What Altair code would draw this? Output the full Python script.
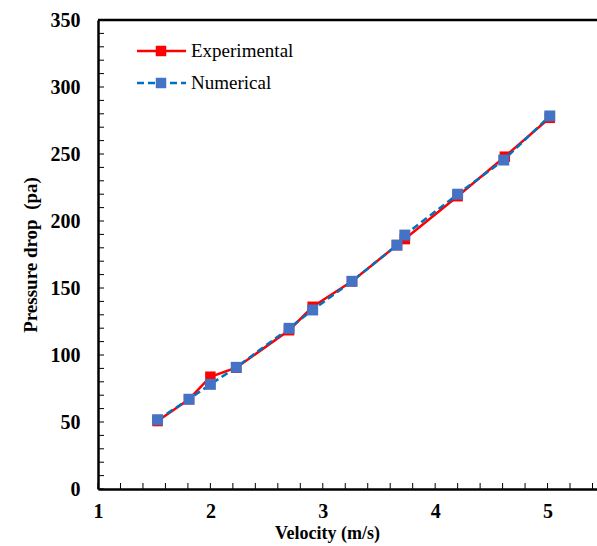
import altair as alt
import pandas as pd

# Data
exp_velocity = [1.53, 1.81, 2.00, 2.23, 2.70, 2.91, 3.26, 3.66, 3.73, 4.20, 4.62, 5.02]
exp_pressure = [50.7, 67.0, 83.8, 90.5, 118.5, 136.0, 155.0, 182.0, 186.5, 218.5, 248.0, 277.0]
num_velocity = [1.53, 1.81, 2.00, 2.23, 2.70, 2.91, 3.26, 3.66, 3.73, 4.20, 4.61, 5.02]
num_pressure = [51.7, 67.0, 78.1, 90.8, 119.9, 133.6, 155.0, 182.0, 189.5, 220.0, 245.5, 278.4]

x_labels = [1, 2, 3, 4, 5]
y_labels = [0, 50, 100, 150, 200, 250, 300, 350]
x_minor = [round(1 + 0.2 * i, 2) for i in range(23)]
y_minor = [10 * i for i in range(36)]

legend_names = ["Experimental", "Numerical"]

W, H = 499, 469
FONT = "Liberation Serif"
RED = "#FF0000"
BLUE_LINE = "#0070C0"
BLUE_MARK = "#4472C4"

exp_df = pd.DataFrame({"v": exp_velocity, "p": exp_pressure})
num_df = pd.DataFrame({"v": num_velocity, "p": num_pressure})

xscale = alt.Scale(domain=[1, 5.44], nice=False, zero=False)
yscale = alt.Scale(domain=[0, 350], nice=False)

xaxis = alt.Axis(
    values=x_labels, format="d", title="Velocity (m/s)", ticks=False, grid=False,
    labelFont=FONT, labelFontSize=20, labelFontWeight="bold", labelColor="black",
    labelPadding=12, domainColor="black", domainWidth=2.5,
    titleFont=FONT, titleFontSize=18, titleFontWeight="bold", titleColor="black",
    titleX=229, titlePadding=3, labelFlush=False,
)
yaxis = alt.Axis(
    values=y_labels, format="d", title="Pressure drop\u00a0\u00a0(pa)", ticks=False, grid=False,
    labelFont=FONT, labelFontSize=20, labelFontWeight="bold", labelColor="black",
    labelPadding=18, domainColor="black", domainWidth=2.5,
    titleFont=FONT, titleFontSize=19, titleFontWeight="bold", titleColor="black",
    titlePadding=10,
)

exp_line = alt.Chart(exp_df).mark_line(color=RED, strokeWidth=2.5).encode(
    x=alt.X("v:Q", scale=xscale, axis=xaxis),
    y=alt.Y("p:Q", scale=yscale, axis=yaxis),
)
exp_pts = alt.Chart(exp_df).mark_point(
    shape="square", filled=True, color=RED, size=110, opacity=1
).encode(x=alt.X("v:Q", scale=xscale), y=alt.Y("p:Q", scale=yscale))

num_line = alt.Chart(num_df).mark_line(
    color=BLUE_LINE, strokeWidth=2.5, strokeDash=[7, 4]
).encode(x=alt.X("v:Q", scale=xscale), y=alt.Y("p:Q", scale=yscale))
num_pts = alt.Chart(num_df).mark_point(
    shape="square", filled=True, color=BLUE_MARK, size=120, opacity=1
).encode(x=alt.X("v:Q", scale=xscale), y=alt.Y("p:Q", scale=yscale))

# Inward minor/major ticks
ytick_df = pd.DataFrame({"p": y_minor})
xtick_df = pd.DataFrame({"v": x_minor})
yticks = alt.Chart(ytick_df).mark_rule(color="black", strokeWidth=1).encode(
    y=alt.Y("p:Q", scale=yscale), x=alt.value(0), x2=alt.value(6)
)
xticks = alt.Chart(xtick_df).mark_rule(color="black", strokeWidth=1).encode(
    x=alt.X("v:Q", scale=xscale), y=alt.value(H), y2=alt.value(H - 6)
)
top_border = alt.Chart().mark_rule(color="black", strokeWidth=2.5).encode(
    x=alt.value(0), x2=alt.value(W), y=alt.value(0)
)

# Manual legend
leg_exp_line = alt.Chart().mark_rule(color=RED, strokeWidth=2.5).encode(
    x=alt.value(39), x2=alt.value(88), y=alt.value(31)
)
leg_exp_pt = alt.Chart().mark_point(shape="square", filled=True, color=RED, size=110, opacity=1).encode(
    x=alt.value(63), y=alt.value(31)
)
leg_num_line = alt.Chart().mark_rule(color=BLUE_LINE, strokeWidth=2.5, strokeDash=[7, 4]).encode(
    x=alt.value(39), x2=alt.value(88), y=alt.value(63)
)
leg_num_pt = alt.Chart().mark_point(shape="square", filled=True, color=BLUE_MARK, size=110, opacity=1).encode(
    x=alt.value(63), y=alt.value(63)
)
leg_exp_txt = alt.Chart().mark_text(
    text=legend_names[0], font=FONT, fontSize=19, align="left", baseline="middle", color="black"
).encode(x=alt.value(93), y=alt.value(31))
leg_num_txt = alt.Chart().mark_text(
    text=legend_names[1], font=FONT, fontSize=19, align="left", baseline="middle", color="black"
).encode(x=alt.value(93), y=alt.value(63))

chart = alt.layer(
    exp_line, exp_pts, num_line, num_pts, yticks, xticks, top_border,
    leg_exp_line, leg_exp_pt, leg_num_line, leg_num_pt, leg_exp_txt, leg_num_txt,
).properties(
    width=W, height=H,
    autosize=alt.AutoSizeParams(type="none"),
    padding={"left": 98, "top": 20, "right": 0, "bottom": 57},
    background="white",
).configure_view(stroke=None)

chart.save("out.html", embed_options={"renderer": "svg", "actions": False})
